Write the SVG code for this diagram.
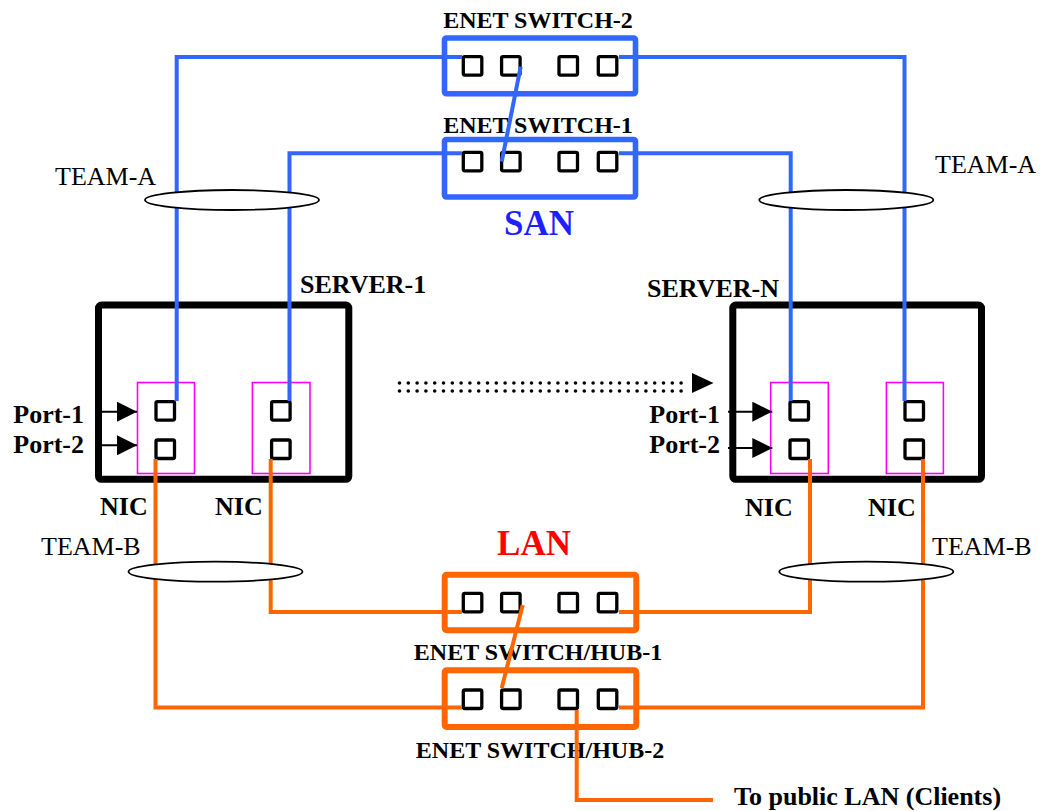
<svg xmlns="http://www.w3.org/2000/svg" width="1040" height="811" viewBox="0 0 1040 811">
<style>
text{font-family:"Liberation Serif","Times New Roman",serif;fill:#000}
.b{font-weight:bold;font-size:26px}
.r{font-size:26px}
.sw{font-weight:bold;font-size:24px}
.big{font-weight:bold;font-size:35px}
.srv{fill:none;stroke:#000;stroke-width:7}
.nic{fill:none;stroke:#ff00ff;stroke-width:1.6}
.port{fill:none;stroke:#000;stroke-width:3.3}
.swb{fill:none;stroke:#3366ff;stroke-width:5.6}
.swo{fill:none;stroke:#ff6600;stroke-width:6}
.blue{fill:none;stroke:#3366ff;stroke-width:4}
.orange{fill:none;stroke:#ff6600;stroke-width:4}
.parr{stroke:#000;stroke-width:2;marker-end:url(#arr)}
.dots{stroke:#000;stroke-width:3.6;stroke-linecap:round;stroke-dasharray:0 8.8}
.team{fill:#fff;stroke:#000;stroke-width:1.8}
</style>
<defs>
<marker id="arr" markerUnits="userSpaceOnUse" markerWidth="20" markerHeight="20" refX="20" refY="10" orient="auto" viewBox="0 0 20 20"><path d="M0,0 L20,10 L0,20 z" fill="#000"/></marker>
</defs>
<rect width="1040" height="811" fill="#fff"/>

<g id="server-1">
<rect class="srv" x="98.5" y="305" width="250.3" height="174.3" rx="3"/>
<rect class="nic" x="137.5" y="382.5" width="57" height="91"/>
<rect class="nic" x="252.4" y="382.5" width="57.6" height="91"/>
<rect class="port" x="156" y="401.6" width="18.5" height="18.5" rx="1.5"/>
<rect class="port" x="156" y="440" width="18.5" height="18.5" rx="1.5"/>
<rect class="port" x="271.6" y="401.6" width="18.5" height="18.5" rx="1.5"/>
<rect class="port" x="271.6" y="440" width="18.5" height="18.5" rx="1.5"/>
<line class="parr" x1="100" y1="411.7" x2="137" y2="411.7"/>
<line class="parr" x1="100" y1="445.3" x2="137" y2="445.3"/>
<text class="b" x="300" y="293">SERVER-1</text>
<text class="b" x="84" y="423" text-anchor="end">Port-1</text>
<text class="b" x="84" y="453" text-anchor="end">Port-2</text>
<text class="b" x="100" y="515">NIC</text>
<text class="b" x="215" y="515">NIC</text>
</g>

<g id="server-n">
<rect class="srv" x="732.8" y="305" width="248.7" height="174.3" rx="3"/>
<rect class="nic" x="770.7" y="382.5" width="57.6" height="91"/>
<rect class="nic" x="886.4" y="382.5" width="57" height="91"/>
<rect class="port" x="790" y="401.6" width="18.5" height="18.5" rx="1.5"/>
<rect class="port" x="790" y="440" width="18.5" height="18.5" rx="1.5"/>
<rect class="port" x="905" y="401.6" width="18.5" height="18.5" rx="1.5"/>
<rect class="port" x="905" y="440" width="18.5" height="18.5" rx="1.5"/>
<line class="parr" x1="728" y1="411.7" x2="772.3" y2="411.7"/>
<line class="parr" x1="728" y1="448" x2="772.3" y2="448"/>
<text class="b" x="647" y="297">SERVER-N</text>
<text class="b" x="720" y="423" text-anchor="end">Port-1</text>
<text class="b" x="720" y="453" text-anchor="end">Port-2</text>
<text class="b" x="745" y="516">NIC</text>
<text class="b" x="868" y="516">NIC</text>
</g>

<g id="enet-switch-2">
<rect class="swb" x="444.5" y="38" width="191" height="55.8" rx="2"/>
<rect class="port" x="463.3" y="56.6" width="18.5" height="18.5" rx="1.5"/>
<rect class="port" x="501.6" y="56.6" width="18.5" height="18.5" rx="1.5"/>
<rect class="port" x="559" y="56.6" width="18.5" height="18.5" rx="1.5"/>
<rect class="port" x="598.3" y="56.6" width="18.5" height="18.5" rx="1.5"/>
<text class="sw" x="538" y="28" text-anchor="middle">ENET SWITCH-2</text>
</g>

<g id="enet-switch-1">
<rect class="swb" x="444.5" y="139.5" width="191" height="57.5" rx="2"/>
<rect class="port" x="463.3" y="152.3" width="18.5" height="18.5" rx="1.5"/>
<rect class="port" x="501.6" y="152.3" width="18.5" height="18.5" rx="1.5"/>
<rect class="port" x="559" y="152.3" width="18.5" height="18.5" rx="1.5"/>
<rect class="port" x="598.3" y="152.3" width="18.5" height="18.5" rx="1.5"/>
<text class="sw" x="538" y="133" text-anchor="middle">ENET SWITCH-1</text>
<text class="big" x="539" y="235" text-anchor="middle" style="fill:#1f1fff">SAN</text>
</g>

<g id="enet-hub-1">
<rect class="swo" x="444.7" y="574.7" width="191.6" height="55.6" rx="2"/>
<rect class="port" x="463.3" y="593.3" width="18.5" height="18.5" rx="1.5"/>
<rect class="port" x="501.6" y="593.3" width="18.5" height="18.5" rx="1.5"/>
<rect class="port" x="559" y="593.3" width="18.5" height="18.5" rx="1.5"/>
<rect class="port" x="598.3" y="593.3" width="18.5" height="18.5" rx="1.5"/>
<text class="sw" x="538" y="660" text-anchor="middle">ENET SWITCH/HUB-1</text>
<text class="big" x="534" y="555" text-anchor="middle" style="fill:#ff0000">LAN</text>
</g>

<g id="enet-hub-2">
<rect class="swo" x="444.7" y="670.3" width="191.6" height="56.7" rx="2"/>
<rect class="port" x="463.3" y="690" width="18.5" height="18.5" rx="1.5"/>
<rect class="port" x="501.6" y="690" width="18.5" height="18.5" rx="1.5"/>
<rect class="port" x="559" y="690" width="18.5" height="18.5" rx="1.5"/>
<rect class="port" x="598.3" y="690" width="18.5" height="18.5" rx="1.5"/>
<text class="sw" x="540" y="758" text-anchor="middle">ENET SWITCH/HUB-2</text>
</g>

<g id="connectors">
<path class="blue" d="M462,57 H176.7 V401"/>
<path class="blue" d="M462,153.3 H289.5 V401"/>
<path class="blue" d="M619,57 H904.5 V401"/>
<path class="blue" d="M619,153.3 H790.7 V401"/>
<path class="blue" d="M520.7,66.7 L501.7,161.7"/>
<path class="orange" d="M155.5,459 V707.5 H462"/>
<path class="orange" d="M270.7,459 V612 H462"/>
<path class="orange" d="M619,612 H810 V459"/>
<path class="orange" d="M619,707.5 H923 V459"/>
<path class="orange" d="M522.7,605 L501.7,688.3"/>
<path class="orange" d="M576.7,710 V800 H713"/>
<line class="dots" x1="399.5" y1="383" x2="689" y2="383"/>
<line class="dots" x1="399.5" y1="391" x2="689" y2="391"/>
<polygon points="692,373 713.5,383 692,393" fill="#000"/>
</g>

<g id="team-a-left">
<ellipse class="team" cx="232" cy="200" rx="87" ry="10"/>
<text class="r" x="55" y="185">TEAM-A</text>
</g>
<g id="team-a-right">
<ellipse class="team" cx="846.3" cy="200" rx="87" ry="10"/>
<text class="r" x="935" y="173">TEAM-A</text>
</g>
<g id="team-b-left">
<ellipse class="team" cx="215.5" cy="571.7" rx="87" ry="10"/>
<text class="r" x="41" y="555">TEAM-B</text>
</g>
<g id="team-b-right">
<ellipse class="team" cx="866.3" cy="571.7" rx="87" ry="10"/>
<text class="r" x="932" y="555">TEAM-B</text>
</g>

<g id="public-lan">
<text class="b" x="734" y="805">To public LAN (Clients)</text>
</g>
</svg>
